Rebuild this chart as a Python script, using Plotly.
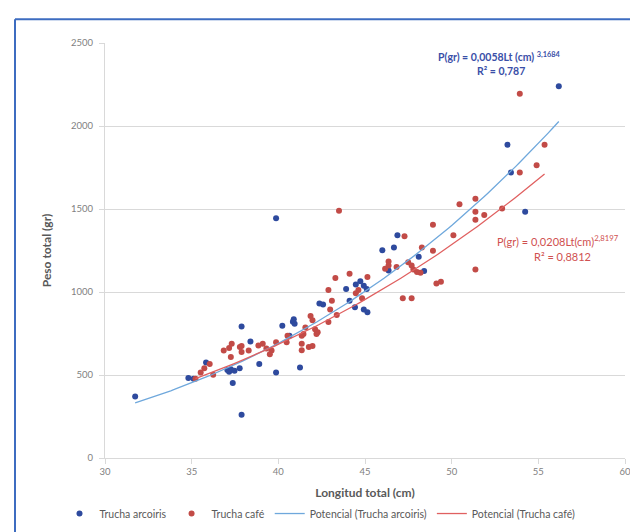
import numpy as np
import plotly.graph_objects as go

# ---- data ----
blue_L = [31.74, 34.81, 35.11, 35.83, 37.06, 37.16, 37.26, 37.47, 37.77, 37.37,
          37.88, 37.88, 38.39, 38.90, 39.87, 39.87, 40.23, 40.64, 40.84, 40.94,
          40.89, 41.25, 42.37, 42.58, 43.91, 44.11, 44.42, 44.47, 44.73, 44.93,
          45.10, 44.93, 45.14, 46.00, 46.67, 46.36, 46.87, 48.10, 48.41, 53.22,
          53.42, 54.24, 56.18]
blue_W = [370, 482, 478, 576, 530, 520, 535, 525, 540, 452,
          792, 261, 702, 566, 1445, 515, 796, 737, 821, 809,
          836, 545, 930, 924, 1018, 947, 908, 1045, 1065, 1038,
          1018, 894, 878, 1252, 1268, 1130, 1342, 1212, 1127, 1887,
          1720, 1484, 2240]

red_L = [35.22, 35.52, 35.73, 36.04, 36.24, 36.85, 37.16, 37.31, 37.26, 37.88,
         37.88, 38.29, 37.78, 38.85, 39.10, 39.31, 39.61, 39.51, 39.87, 40.48,
         40.53, 41.35, 41.45, 41.35, 41.35, 41.76, 41.97, 41.86, 41.97, 41.56,
         42.12, 42.27, 42.20, 42.89, 43.09, 42.99, 43.37, 42.89, 43.29, 43.50,
         44.11, 45.14, 44.62, 44.47, 44.83, 46.36, 46.16, 46.36, 46.82, 47.28,
         47.49, 47.69, 47.79, 48.00, 48.20, 47.18, 47.69, 48.28, 48.92, 48.92,
         49.12, 49.38, 50.10, 50.45, 51.37, 51.37, 51.37, 51.88, 52.91, 51.37,
         53.93, 55.36, 53.93, 54.90]
red_W = [478, 515, 540, 566, 501, 648, 662, 688, 609, 674,
         639, 648, 668, 678, 688, 659, 648, 625, 698, 698,
         737, 737, 747, 688, 649, 668, 674, 855, 830, 786,
         776, 757, 747, 1012, 947, 894, 861, 820, 1085, 1490,
         1110, 1091, 1012, 992, 963, 1183, 1140, 1160, 1150, 1336,
         1179, 1160, 1136, 1120, 1116, 963, 963, 1268, 1248, 1405,
         1051, 1061, 1342, 1528, 1562, 1484, 1435, 1464, 1503, 1136,
         2195, 1887, 1720, 1763]

# power trend-line coefficients (as printed on the chart)
blue_a, blue_b = 0.0058, 3.1684
red_a, red_b = 0.0208, 2.8197

x_ticks = [30, 35, 40, 45, 50, 55, 60]
y_ticks = [0, 500, 1000, 1500, 2000, 2500]

# ---- layout helpers ----
W, H = 638, 532
L_M, R_M, T_M, B_M = 97, 21, 35, 71
PX0, PX1 = L_M, W - R_M
PY0, PY1 = H - B_M, T_M


def px(p):
    return (p - PX0) / (PX1 - PX0)


def py(p):
    return (PY0 - p) / (PY0 - PY1)


BLUE = "#2E4A9E"
RED = "#C24B47"
BLUE_LINE = "#6FA8DC"
RED_LINE = "#E06060"
GRAY = "#595959"
FONT = "Lato"

fig = go.Figure()

fig.add_trace(go.Scatter(x=blue_L, y=blue_W, mode="markers", name="Trucha arcoiris",
                         marker=dict(color=BLUE, size=6)))
fig.add_trace(go.Scatter(x=red_L, y=red_W, mode="markers", name="Trucha café",
                         marker=dict(color=RED, size=6)))

bx = np.linspace(min(blue_L), max(blue_L), 120)
rx = np.linspace(min(red_L), max(red_L), 120)
fig.add_trace(go.Scatter(x=bx, y=blue_a * bx ** blue_b, mode="lines",
                         name="Potencial (Trucha arcoiris)",
                         line=dict(color=BLUE_LINE, width=1.3)))
fig.add_trace(go.Scatter(x=rx, y=red_a * rx ** red_b, mode="lines",
                         name="Potencial (Trucha café)",
                         line=dict(color=RED_LINE, width=1.3)))

axis_common = dict(showline=True, linecolor="#D9D9D9", linewidth=1,
                   ticks="outside", ticklen=5, tickcolor="#D9D9D9",
                   tickfont=dict(family=FONT, size=9.5, color="#7F7F7F"),
                   zeroline=False)

fig.update_xaxes(range=[30, 60], tickvals=x_ticks, showgrid=False,
                 title=dict(text="<b>Longitud total (cm)</b>",
                            font=dict(family=FONT, size=12, color=GRAY), standoff=12),
                 **axis_common)
fig.update_yaxes(range=[0, 2500], tickvals=y_ticks, showgrid=True,
                 gridcolor="#D9D9D9", gridwidth=1, ticklabelstandoff=4,
                 title=dict(text="<b>Peso total (gr)</b>",
                            font=dict(family=FONT, size=12, color=GRAY), standoff=16),
                 **axis_common)

annotations = [
    dict(text="<b>P(gr) = 0,0058Lt (cm) <sup>3,1684</sup></b>", x=px(491), y=py(49),
         font=dict(family=FONT, size=10.5, color="#3A4FA8")),
    dict(text="<b>R² = 0,787</b>", x=px(493), y=py(64),
         font=dict(family=FONT, size=10.5, color="#3A4FA8")),
    dict(text="P(gr) = 0,0208Lt(cm)<sup>2,8197</sup>", x=px(550), y=py(238),
         font=dict(family=FONT, size=11, color="#D05050")),
    dict(text="R² = 0,8812", x=px(554), y=py(254),
         font=dict(family=FONT, size=11, color="#D05050")),
]
for a in annotations:
    a.update(xref="paper", yref="paper", showarrow=False, xanchor="center", yanchor="middle")

shapes = [
    dict(type="line", xref="paper", yref="paper", x0=px(7), x1=px(660), y0=py(10.5), y1=py(10.5),
         line=dict(color="#3D6CC0", width=2)),
    dict(type="line", xref="paper", yref="paper", x0=px(7), x1=px(7), y0=py(10.5), y1=py(560),
         line=dict(color="#3D6CC0", width=2)),
]

fig.update_layout(
    width=W, height=H,
    margin=dict(l=L_M, r=R_M, t=T_M, b=B_M),
    paper_bgcolor="white", plot_bgcolor="white",
    annotations=annotations, shapes=shapes,
    showlegend=True,
    legend=dict(orientation="h", x=px(312), y=py(518), xanchor="center", yanchor="middle",
                font=dict(family=FONT, size=10.5, color=GRAY), itemwidth=30,
                bgcolor="rgba(0,0,0,0)"),
)

fig.write_html("out.html")
